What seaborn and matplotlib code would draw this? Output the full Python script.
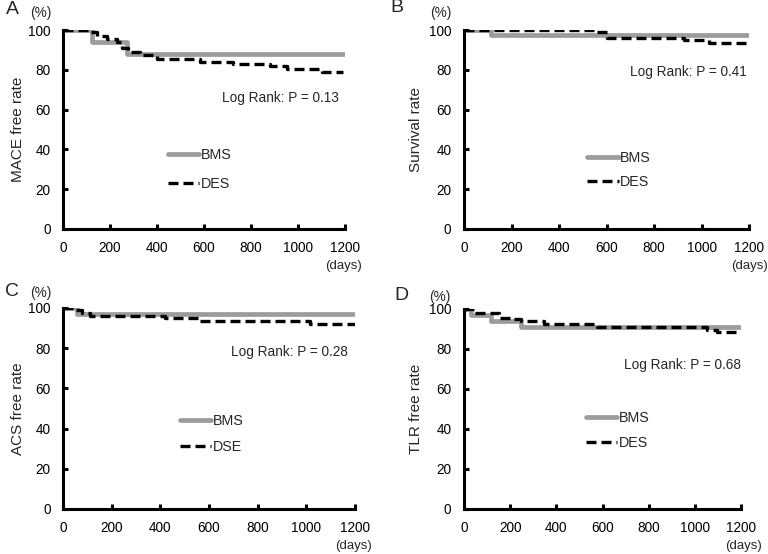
import matplotlib
matplotlib.use("Agg")
import matplotlib.pyplot as plt
import seaborn as sns
import pandas as pd

# ---------------- data ----------------
days_ticks = [0, 200, 400, 600, 800, 1000, 1200]
pct_ticks = [0, 20, 40, 60, 80, 100]

panel_letters = ["A", "B", "C", "D"]
y_labels = ["MACE free rate", "Survival rate", "ACS free rate", "TLR free rate"]
p_texts = ["Log Rank: P = 0.13", "Log Rank: P = 0.41", "Log Rank: P = 0.28", "Log Rank: P = 0.68"]
legend_names = [["BMS", "DES"], ["BMS", "DES"], ["BMS", "DSE"], ["BMS", "DES"]]

A_bms_t = [0, 123, 273, 1200]
A_bms_s = [100, 94, 87.7, 87.7]
A_des_t = [0, 106, 144, 187, 229, 251, 277, 328, 400, 583, 723, 881, 953, 1100, 1192]
A_des_s = [100, 99, 97, 95.5, 94, 91, 89, 87.5, 85.5, 84, 83, 81.7, 80.5, 78.8, 78.8]

B_bms_t = [0, 114, 1200]
B_bms_s = [100, 97.3, 97.3]
B_des_t = [0, 560, 602, 926, 1031, 1190]
B_des_s = [100, 99, 96.2, 94.8, 93.6, 93.6]

C_bms_t = [0, 57, 1200]
C_bms_s = [100, 97, 97]
C_des_t = [0, 40, 78, 111, 420, 556, 1016, 1200]
C_des_s = [100, 99, 97.5, 96.2, 95, 93.6, 92.1, 92.1]

D_bms_t = [0, 30, 117, 246, 1200]
D_bms_s = [100, 97, 93.8, 91, 91]
D_des_t = [0, 43, 150, 200, 246, 346, 576, 1052, 1095, 1200]
D_des_s = [100, 98, 95.5, 95, 93.8, 92.6, 91, 89.6, 88.3, 88.3]

series = [
    (A_bms_t, A_bms_s, A_des_t, A_des_s),
    (B_bms_t, B_bms_s, B_des_t, B_des_s),
    (C_bms_t, C_bms_s, C_des_t, C_des_s),
    (D_bms_t, D_bms_s, D_des_t, D_des_s),
]

# ---------------- style ----------------
sns.set_style("ticks")
plt.rcParams["font.family"] = ["Liberation Sans", "DejaVu Sans"]

W, H = 768, 554
fig = plt.figure(figsize=(W / 100, H / 100), dpi=100)

# axes rectangles in pixel coords: left, bottom(y0 px), right, top(y100 px)
rects = [
    (63, 229, 345, 30),
    (464, 229, 749, 30),
    (63, 509, 355, 308),
    (464, 509, 741, 309),
]
ylabel_x = [-0.16, -0.17, -0.155, -0.175]
ptext_pos = [(0.979, 0.658), (0.993, 0.789), (0.976, 0.78), (1.0, 0.72)]
legend_pos = [(0.372, 0.405), (0.432, 0.39), (0.40, 0.475), (0.44, 0.49)]
legend_spacing = [1.05, 0.66, 0.88, 0.76]
letter_pos = [(12, 10), (397, 8), (12, 291), (401, 295)]
pct_pos = [(41, 13), (441, 13), (41, 293), (440, 297)]
days_pos = [(344, 266), (749, 266), (353, 546), (744, 546)]

BMS_COLOR = "#9c9c9c"

for i, (l, b, r, t) in enumerate(rects):
    ax = fig.add_axes([l / W, 1 - b / H, (r - l) / W, (b - t) / H])
    bt, bs, dt, ds = series[i]
    sns.lineplot(x=bt, y=bs, ax=ax, drawstyle="steps-post", color=BMS_COLOR,
                 lw=3.4, label=legend_names[i][0], estimator=None, sort=False)
    sns.lineplot(x=dt, y=ds, ax=ax, drawstyle="steps-post", color="black",
                 lw=2.4, label=legend_names[i][1], estimator=None, sort=False)
    ax.lines[-1].set_dashes([3.0, 1.5])
    ax.lines[-1].set_dash_capstyle("butt")

    ax.set_xlim(0, 1200)
    ax.set_ylim(0, 100)
    ax.set_xticks(days_ticks)
    ax.set_yticks(pct_ticks)
    ax.set_xticklabels([str(v) for v in days_ticks])
    ax.set_yticklabels([str(v) for v in pct_ticks])
    sns.despine(ax=ax)
    for sp in ("left", "bottom"):
        ax.spines[sp].set_linewidth(2.2)
        ax.spines[sp].set_color("black")
    ax.tick_params(direction="in", length=3.5, width=2.2, colors="black",
                   labelsize=9.8, pad=9)
    ax.set_xlabel("")
    ax.set_ylabel(y_labels[i], fontsize=11, va="center")
    ax.yaxis.set_label_coords(ylabel_x[i], 0.5)

    ax.text(ptext_pos[i][0], ptext_pos[i][1], p_texts[i], transform=ax.transAxes,
            ha="right", va="center", fontsize=9.8)

    leg = ax.legend(loc="upper left", bbox_to_anchor=legend_pos[i], frameon=False,
                    fontsize=10.3, handlelength=2.2, handletextpad=0.12,
                    labelspacing=legend_spacing[i], borderpad=0, borderaxespad=0)

    fig.text(letter_pos[i][0] / W, 1 - letter_pos[i][1] / H, panel_letters[i],
             fontsize=14, ha="center", va="center")
    fig.text(pct_pos[i][0] / W, 1 - pct_pos[i][1] / H, "(%)",
             fontsize=9.8, ha="center", va="center")
    fig.text(days_pos[i][0] / W, 1 - days_pos[i][1] / H, "(days)",
             fontsize=9.5, ha="center", va="center")

fig.savefig("out.png", dpi=100)
